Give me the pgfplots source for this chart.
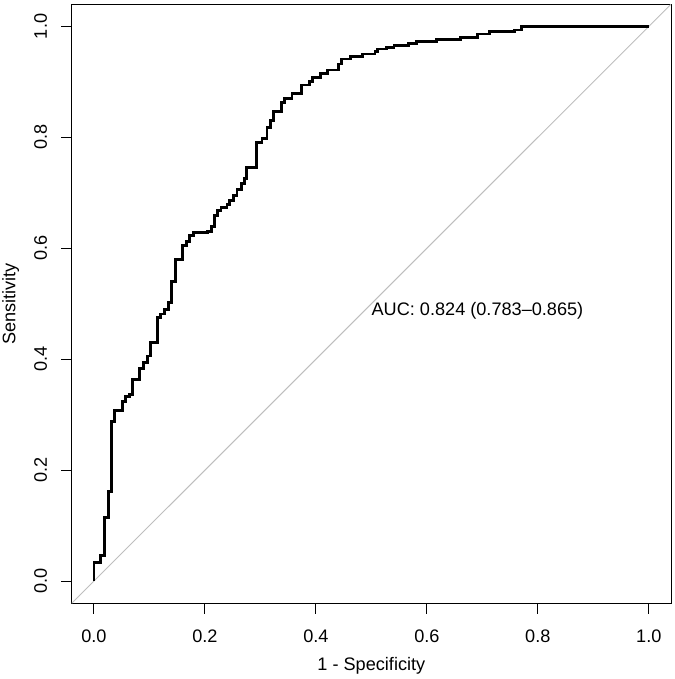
\documentclass[border=0pt]{standalone}
\usepackage{fontspec}
\setmainfont{Liberation Sans}
\usepackage{pgfplots}
\pgfplotsset{compat=1.18}

\definecolor{diaggray}{RGB}{190,190,190}

\begin{document}
\begin{tikzpicture}[font=\fontsize{13.6}{16}\selectfont]
\begin{axis}[
    name=ax,
    scale only axis,
    width=449.5pt,
    height=449.3pt,
    xmin=-0.04, xmax=1.04,
    ymin=-0.04, ymax=1.04,
    xtick={0,0.2,0.4,0.6,0.8,1},
    ytick={0,0.2,0.4,0.6,0.8,1},
    xticklabels={0.0,0.2,0.4,0.6,0.8,1.0},
    yticklabels={0.0,0.2,0.4,0.6,0.8,1.0},
    xtick pos=bottom, ytick pos=left,
    tick align=outside,
    major tick length=8pt,
    axis line style={line width=0.75pt},
    every tick/.style={black, line width=0.75pt},
    xticklabel style={anchor=north, inner sep=0pt},
    xticklabel shift=12pt,
    yticklabel style={rotate=90, anchor=base, inner sep=0pt},
    yticklabel shift=10.7pt,
]
% chance line
\addplot[diaggray, line width=0.75pt] coordinates {(-0.04,-0.04) (1.04,1.04)};

% ROC curve
\addplot[black, line width=2.1pt, line join=miter] coordinates {
(0,0) (0,0.0342) (0.0121,0.0342) (0.0121,0.0462) (0.0192,0.0462)
(0.0192,0.1151) (0.0259,0.1151) (0.0259,0.1619) (0.0313,0.1619)
(0.0313,0.2872) (0.0372,0.2872) (0.0372,0.3070) (0.0511,0.3070)
(0.0511,0.3232) (0.0570,0.3232) (0.0570,0.3327) (0.0642,0.3327)
(0.0642,0.3367) (0.0701,0.3367) (0.0701,0.3640) (0.0827,0.3640)
(0.0827,0.3838) (0.0888,0.3838) (0.0888,0.3946) (0.0960,0.3946)
(0.0960,0.4059) (0.1025,0.4059) (0.1025,0.4299) (0.1151,0.4299)
(0.1151,0.4755) (0.1199,0.4755) (0.1199,0.4815) (0.1271,0.4815)
(0.1271,0.4899) (0.1338,0.4899) (0.1338,0.5025) (0.1392,0.5025)
(0.1392,0.5396) (0.1464,0.5396) (0.1464,0.5799) (0.1601,0.5799)
(0.1601,0.6056) (0.1662,0.6056) (0.1662,0.6122) (0.1727,0.6122)
(0.1727,0.6236) (0.1788,0.6236) (0.1788,0.6284) (0.2040,0.6284)
(0.2040,0.6308) (0.2117,0.6308) (0.2117,0.6397) (0.2171,0.6397)
(0.2171,0.6595) (0.2230,0.6595) (0.2230,0.6685) (0.2291,0.6685)
(0.2291,0.6730) (0.2399,0.6730) (0.2399,0.6788) (0.2441,0.6788)
(0.2441,0.6865) (0.2518,0.6865) (0.2518,0.6955) (0.2579,0.6955)
(0.2579,0.7058) (0.2656,0.7058) (0.2656,0.7165) (0.2716,0.7165)
(0.2716,0.7255) (0.2746,0.7255) (0.2746,0.7450) (0.2926,0.7450)
(0.2926,0.7914) (0.3029,0.7914) (0.3029,0.7975) (0.3119,0.7975)
(0.3119,0.8173) (0.3178,0.8173) (0.3178,0.8304) (0.3237,0.8304)
(0.3237,0.8471) (0.3376,0.8471) (0.3376,0.8633) (0.3435,0.8633)
(0.3435,0.8694) (0.3568,0.8694) (0.3568,0.8795) (0.3748,0.8795)
(0.3748,0.8946) (0.3885,0.8946) (0.3885,0.9011) (0.3946,0.9011)
(0.3946,0.9083) (0.4077,0.9083) (0.4077,0.9155) (0.4209,0.9155)
(0.4209,0.9216) (0.4406,0.9216) (0.4406,0.9324) (0.4455,0.9324)
(0.4455,0.9414) (0.4617,0.9414) (0.4617,0.9455) (0.4838,0.9455)
(0.4838,0.9504) (0.5067,0.9504) (0.5067,0.9545) (0.5108,0.9545)
(0.5108,0.9594) (0.5277,0.9594) (0.5277,0.9622) (0.5408,0.9622)
(0.5408,0.9658) (0.5665,0.9658) (0.5665,0.9694) (0.5817,0.9694)
(0.5817,0.9725) (0.6176,0.9725) (0.6176,0.9766) (0.6613,0.9766)
(0.6613,0.9802) (0.6919,0.9802) (0.6919,0.9863) (0.7126,0.9863)
(0.7126,0.9904) (0.7585,0.9904) (0.7585,0.9935) (0.7705,0.9935)
(0.7705,1.0) (1,1)
};

\node[anchor=north west, inner sep=0pt] at (axis cs:0.5,0.503) {AUC: 0.824 (0.783–0.865)};
\end{axis}

\node[anchor=base, inner sep=0pt] at ([yshift=-50.5pt]ax.south) {1 - Specificity};
\node[rotate=90, anchor=base, inner sep=0pt] at ([xshift=-42.3pt]ax.west) {Sensitivity};

\path ([shift={(-53.8pt,-56.8pt)}]ax.south west) rectangle ([shift={(3pt,3.2pt)}]ax.north east);
\end{tikzpicture}
\end{document}
